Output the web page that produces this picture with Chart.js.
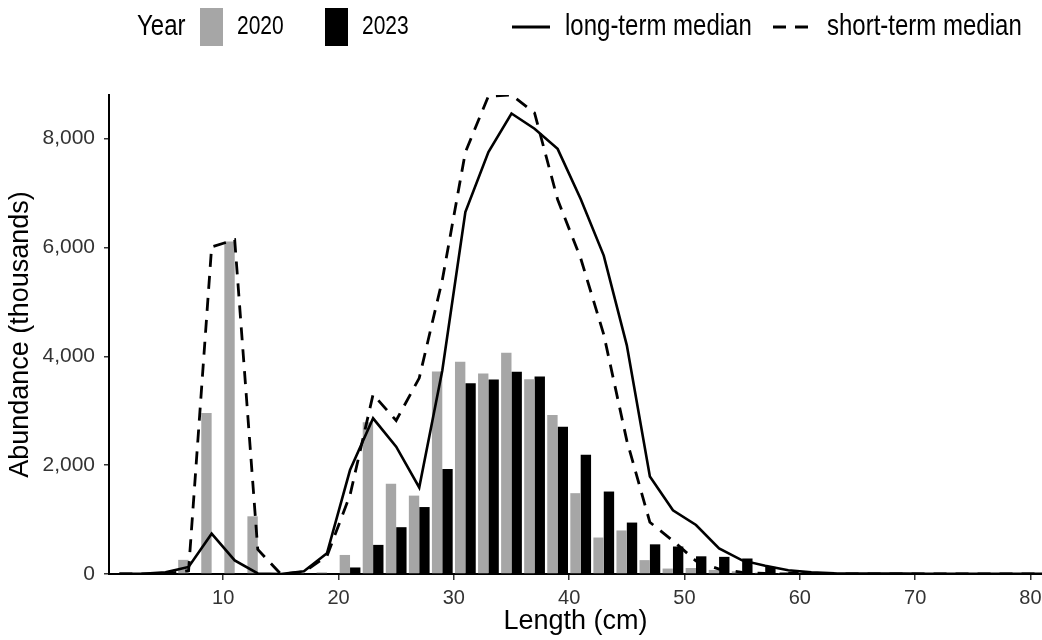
<!DOCTYPE html>
<html>
<head>
<meta charset="utf-8">
<title>Length frequency</title>
<style>
  html, body { margin: 0; padding: 0; background: #fff; }
  #wrap { width: 1042px; height: 640px; }
</style>
<script src="https://cdn.jsdelivr.net/npm/chart.js@4.4.1/dist/chart.umd.min.js"></script>
</head>
<body>
<div id="wrap"><canvas id="lfd" width="1042" height="640"></canvas></div>
<script>
/* global Chart */

// Length classes (bin centres, cm).
var LENGTHS = [1, 3, 5, 7, 9, 11, 13, 15, 17, 19, 21, 23, 25, 27, 29, 31, 33, 35, 37, 39, 41,
	43, 45, 47, 49, 51, 53, 55, 57, 59, 61, 63, 65, 67, 69, 71, 73, 75, 77, 79, 81];

// Abundance (thousands) per length class.
var Y2020 = [0, 10, 20, 260, 2960, 6110, 1060, 0, 10, 30, 350, 2790, 1660, 1440, 3720, 3900, 3685,
	4065, 3580, 2920, 1485, 670, 800, 255, 100, 110, 75, 50, 25, 10, 0, 0, 0, 0, 0, 0, 0, 0, 0, 0, 0];
var Y2023 = [0, 0, 0, 0, 0, 0, 0, 0, 0, 0, 120, 535, 860, 1230, 1930, 3505, 3575, 3715, 3630, 2705,
	2190, 1515, 945, 545, 505, 325, 315, 285, 130, 40, 10, 0, 0, 0, 0, 0, 0, 0, 0, 0, 0];
var LT_MEDIAN = [5, 5, 30, 130, 740, 250, 10, 0, 50, 380, 1910, 2860, 2340, 1590, 3740, 6650, 7750,
	8460, 8180, 7810, 6890, 5850, 4200, 1790, 1170, 900, 470, 250, 150, 70, 30, 15, 10, 8, 6, 5, 5, 4, 4, 3, 3];
var ST_MEDIAN = [0, 0, 0, 60, 6010, 6140, 450, 0, 40, 330, 1450, 3300, 2820, 3600, 5400, 7750, 8780,
	8800, 8470, 6880, 5800, 4400, 2450, 950, 610, 240, 90, 30, 10, 0, 0, 0, 0, 0, 0, 0, 0, 0, 0, 0, 0];

var X_TICKS = [10, 20, 30, 40, 50, 60, 70, 80];
var Y_TICKS = [0, 2000, 4000, 6000, 8000];

var LEGEND_TITLE = 'Year';
var LABELS = ['2020', '2023', 'long-term median', 'short-term median'];

var FONT = '"Liberation Sans", Arial, sans-serif';
var GREY = '#a6a6a6';
var TEXT = '#333333';

function points(values) {
	return LENGTHS.map(function (x, i) {
		return { x: x, y: values[i] };
	});
}

function setTicks(list) {
	return function (scale) {
		scale.ticks = list.map(function (v) { return { value: v }; });
	};
}

// Legend text in the original is a touch taller than it is wide.
function tallText(ctx, text, x, y) {
	ctx.save();
	ctx.translate(x, y);
	ctx.scale(1, 1.2);
	ctx.fillText(text, 0, 0);
	ctx.restore();
}

// Legend across the top, drawn by hand to match the ggplot layout.
var topLegend = {
	id: 'topLegend',
	afterDraw: function (chart) {
		var ctx = chart.ctx;
		var ds = chart.data.datasets;
		var cy = 27;

		ctx.save();
		ctx.textBaseline = 'middle';
		ctx.textAlign = 'left';
		ctx.fillStyle = '#000';

		ctx.font = '24px ' + FONT;
		tallText(ctx, LEGEND_TITLE, 137, cy);

		ctx.font = '21px ' + FONT;
		ctx.fillStyle = ds[0].backgroundColor;
		ctx.fillRect(200, 8, 23, 38);
		ctx.fillStyle = '#000';
		tallText(ctx, ds[0].label, 237, cy);

		ctx.fillStyle = ds[1].backgroundColor;
		ctx.fillRect(325, 8, 23, 38);
		ctx.fillStyle = '#000';
		tallText(ctx, ds[1].label, 362, cy);

		ctx.font = '24px ' + FONT;
		ctx.lineWidth = 3;
		ctx.strokeStyle = '#000';
		ctx.beginPath();
		ctx.moveTo(512, cy);
		ctx.lineTo(550, cy);
		ctx.stroke();
		tallText(ctx, ds[2].label, 565, cy);

		ctx.setLineDash(ds[3].borderDash);
		ctx.beginPath();
		ctx.moveTo(773, cy);
		ctx.lineTo(809, cy);
		ctx.stroke();
		ctx.setLineDash([]);
		tallText(ctx, ds[3].label, 827, cy);

		ctx.restore();
	},
};

function init() {
	var canvas = document.getElementById('lfd');

	new Chart(canvas, {
		data: {
			datasets: [
				{
					type: 'bar',
					label: LABELS[0],
					data: points(Y2020),
					backgroundColor: GREY,
					categoryPercentage: 0.9,
					barPercentage: 1,
					order: 1,
				},
				{
					type: 'bar',
					label: LABELS[1],
					data: points(Y2023),
					backgroundColor: '#000',
					categoryPercentage: 0.9,
					barPercentage: 1,
					order: 1,
				},
				{
					type: 'line',
					label: LABELS[2],
					data: points(LT_MEDIAN),
					borderColor: '#000',
					borderWidth: 2.6,
					pointRadius: 0,
					tension: 0,
					order: 0,
				},
				{
					type: 'line',
					label: LABELS[3],
					data: points(ST_MEDIAN),
					borderColor: '#000',
					borderWidth: 2.8,
					borderDash: [13, 9],
					pointRadius: 0,
					tension: 0,
					order: 0,
				},
			],
		},
		options: {
			responsive: false,
			animation: false,
			devicePixelRatio: 1,
			layout: { padding: { top: 95, right: 0, left: 0, bottom: 0 } },
			plugins: {
				legend: { display: false },
				tooltip: { enabled: false },
			},
			scales: {
				x: {
					type: 'linear',
					offset: false,
					min: 0.1,
					max: 81,
					afterBuildTicks: setTicks(X_TICKS),
					afterFit: function (scale) {
						scale.height = 66;
						// let the axis run to the canvas edge like the original
						scale.paddingLeft = 0;
						scale.paddingRight = 0;
					},
					border: { display: true, color: '#000', width: 2 },
					grid: { display: true, offset: false, drawOnChartArea: false, drawTicks: true, tickLength: 6, color: TEXT, lineWidth: 1.5 },
					ticks: { color: TEXT, font: { family: FONT, size: 20 }, padding: 6, maxRotation: 0 },
					title: { display: true, text: 'Length (cm)', color: '#000', font: { family: FONT, size: 27 }, padding: { top: 0, bottom: 2 } },
				},
				y: {
					min: 0,
					max: 8800,
					afterBuildTicks: setTicks(Y_TICKS),
					afterFit: function (scale) { scale.width = 109; },
					border: { display: true, color: '#000', width: 2 },
					grid: { display: true, drawOnChartArea: false, drawTicks: true, tickLength: 5, color: TEXT, lineWidth: 1.5 },
					ticks: {
						color: TEXT,
						font: { family: FONT, size: 21 },
						padding: 9,
						callback: function (v) { return v.toLocaleString('en-US'); },
					},
					title: { display: true, text: 'Abundance (thousands)', color: '#000', font: { family: FONT, size: 27 }, padding: { top: 4, bottom: 0 } },
				},
			},
		},
		plugins: [topLegend],
	});
}

init();
</script>
</body>
</html>
